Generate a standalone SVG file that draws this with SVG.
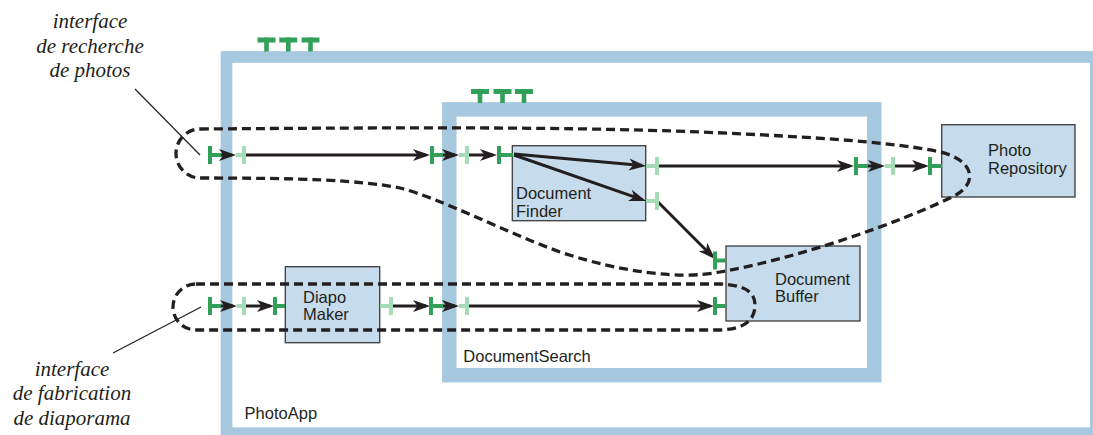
<svg xmlns="http://www.w3.org/2000/svg" width="1093" height="435" viewBox="0 0 1093 435">
<style>
.frame{fill:none;stroke:#a7c9df}
.node{fill:#c6dbeb;stroke:#3b3b3b;stroke-width:1.3}
.lbl{font-family:"Liberation Sans",Arial,sans-serif;font-size:16.5px;fill:#231f20}
.note{font-family:"Liberation Serif","Times New Roman",serif;font-style:italic;font-size:21px;fill:#231f20;text-anchor:middle}
.dg{fill:#33a05a}
.lg{fill:#a5dbb7}
.con{stroke:#231f20;stroke-width:3;fill:none;marker-end:url(#ah)}
.loop{fill:none;stroke:#231f20;stroke-width:3.3;stroke-dasharray:9 5}
.lead{stroke:#231f20;stroke-width:1.2;fill:none}
</style>
<defs>
<marker id="ah" markerUnits="userSpaceOnUse" markerWidth="17" markerHeight="12" refX="13" refY="6" orient="auto" overflow="visible">
<path d="M0,0 L17,6 L0,12 L4.5,6 Z" fill="#231f20"/>
</marker>
</defs>
<rect width="1093" height="435" fill="#ffffff"/>

<g id="PhotoApp">
<rect class="frame" x="226.5" y="57" width="869.3" height="376.2" stroke-width="11.7"/>
<g class="dg">
<rect x="257.5" y="37.5" width="18" height="5"/><rect x="264.2" y="37.5" width="4.6" height="14"/>
<rect x="279.3" y="37.5" width="18" height="5"/><rect x="286" y="37.5" width="4.6" height="14"/>
<rect x="301.5" y="37.5" width="18" height="5"/><rect x="308.2" y="37.5" width="4.6" height="14"/>
</g>
<text class="lbl" x="244.6" y="419">PhotoApp</text>
</g>

<g id="DocumentSearch">
<rect class="frame" x="449.3" y="109.4" width="425" height="265.8" stroke-width="14.5"/>
<g class="dg">
<rect x="471" y="89" width="18" height="5"/><rect x="477.7" y="89" width="4.6" height="14"/>
<rect x="493.5" y="89" width="18" height="5"/><rect x="500.2" y="89" width="4.6" height="14"/>
<rect x="515" y="89" width="18" height="5"/><rect x="521.7" y="89" width="4.6" height="14"/>
</g>
<text class="lbl" x="463.3" y="362">DocumentSearch</text>
</g>

<g id="DocumentFinder">
<rect class="node" x="512.3" y="145.7" width="133.4" height="75"/>
<text class="lbl" x="516" y="199">Document</text>
<text class="lbl" x="516" y="217">Finder</text>
</g>

<g id="PhotoRepository">
<rect class="node" x="941.7" y="124.7" width="133.3" height="72.3"/>
<text class="lbl" x="988" y="156">Photo</text>
<text class="lbl" x="988" y="174">Repository</text>
</g>

<g id="DocumentBuffer">
<rect class="node" x="726" y="246" width="134" height="75"/>
<text class="lbl" x="775" y="285">Document</text>
<text class="lbl" x="775" y="302">Buffer</text>
</g>

<g id="DiapoMaker">
<rect class="node" x="285.3" y="266.7" width="94.4" height="76"/>
<text class="lbl" x="303" y="303">Diapo</text>
<text class="lbl" x="303" y="320">Maker</text>
</g>

<g id="interfaces">
<path class="loop" d="M200,129 C350,128 550,126 700,132 C820,137 900,143 940,152 C975,160 980,185 950,198 C900,222 800,258 720,272 C680,280 620,272 560,252 C500,230 440,198 400,188 C360,180 300,178 200,178 A24,24.5 0 0 1 200,129 Z"/>
<path class="loop" d="M196,284 L720,284 C745,285 755,292 755,305 C755,320 745,329 720,330 L196,330 A23,23 0 0 1 196,284 Z"/>
</g>

<g id="connectors">
<line class="con" x1="220" y1="155" x2="232" y2="155"/>
<line class="con" x1="246" y1="155" x2="426" y2="155"/>
<line class="con" x1="443" y1="155" x2="455" y2="155"/>
<line class="con" x1="469" y1="155" x2="493" y2="155"/>
<line class="con" x1="514" y1="154" x2="642" y2="165.6"/>
<line class="con" x1="514" y1="155" x2="642.2" y2="199.7"/>
<line class="con" x1="659" y1="166" x2="850" y2="166"/>
<line class="con" x1="868" y1="166" x2="881" y2="166"/>
<line class="con" x1="895" y1="166" x2="925" y2="166"/>
<line class="con" x1="658" y1="202" x2="712.2" y2="256.2"/>
<line class="con" x1="221" y1="306" x2="233" y2="306"/>
<line class="con" x1="246" y1="306" x2="270" y2="306"/>
<line class="con" x1="393" y1="306" x2="426" y2="306"/>
<line class="con" x1="443" y1="306" x2="455" y2="306"/>
<line class="con" x1="469" y1="306" x2="710" y2="306"/>
</g>

<g id="ports">
<g class="dg">
<rect x="208" y="146" width="4" height="18"/><rect x="212" y="153" width="9" height="4"/>
<rect x="430" y="146" width="4" height="18"/><rect x="434" y="153" width="9" height="4"/>
<rect x="497" y="146" width="4" height="18"/><rect x="501" y="153" width="12" height="4"/>
<rect x="854" y="157" width="4" height="18"/><rect x="858" y="164" width="10" height="4"/>
<rect x="928" y="157" width="4" height="18"/><rect x="932" y="164" width="10" height="4"/>
<rect x="713" y="251.5" width="4" height="18"/><rect x="717" y="258.5" width="9" height="4"/>
<rect x="208" y="297" width="4" height="18"/><rect x="212" y="304" width="9" height="4"/>
<rect x="273" y="297" width="4" height="18"/><rect x="277" y="304" width="8" height="4"/>
<rect x="429" y="297" width="4" height="18"/><rect x="433" y="304" width="10" height="4"/>
<rect x="713" y="297" width="4" height="18"/><rect x="717" y="304" width="9" height="4"/>
</g>
<g class="lg">
<rect x="236" y="153" width="6" height="4"/><rect x="242" y="146" width="4" height="18"/>
<rect x="459" y="153" width="6" height="4"/><rect x="465" y="146" width="4" height="18"/>
<rect x="646" y="164" width="9" height="4"/><rect x="655" y="157" width="4" height="18"/>
<rect x="646" y="199" width="9" height="4"/><rect x="655" y="192" width="4" height="18"/>
<rect x="885" y="164" width="6" height="4"/><rect x="891" y="157" width="4" height="18"/>
<rect x="237" y="304" width="5" height="4"/><rect x="242" y="297" width="4" height="18"/>
<rect x="380" y="304" width="9" height="4"/><rect x="389" y="297" width="4" height="18"/>
<rect x="459" y="304" width="6" height="4"/><rect x="465" y="297" width="4" height="18"/>
</g>
</g>

<g id="annotations">
<text class="note" x="90" y="28">interface</text>
<text class="note" x="90" y="53">de recherche</text>
<text class="note" x="90" y="77">de photos</text>
<line class="lead" x1="135" y1="89" x2="200" y2="155"/>
<text class="note" x="72" y="376">interface</text>
<text class="note" x="72" y="400">de fabrication</text>
<text class="note" x="72" y="425">de diaporama</text>
<line class="lead" x1="113" y1="353" x2="201" y2="307"/>
</g>
</svg>
